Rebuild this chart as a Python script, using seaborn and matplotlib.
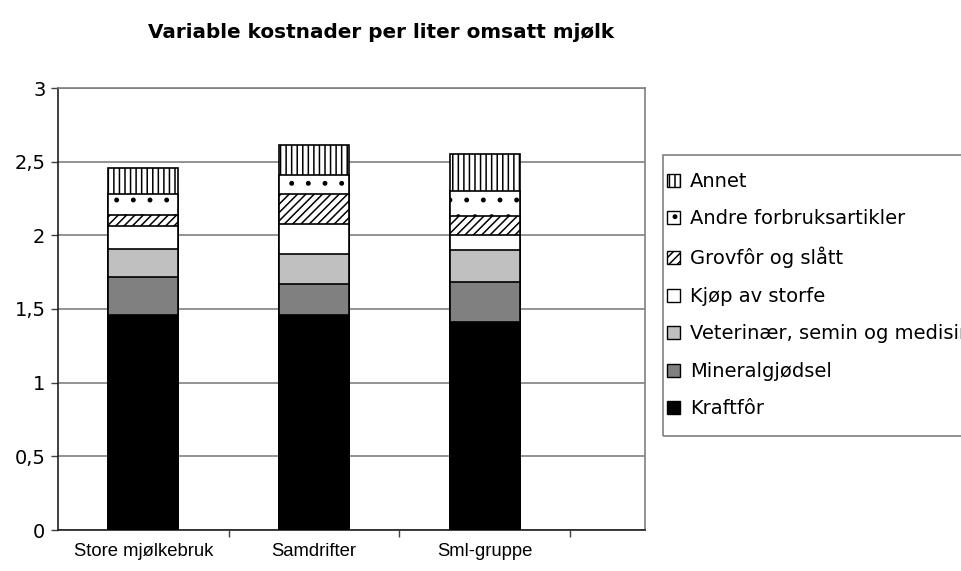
import pandas as pd
import seaborn as sns
import matplotlib.pyplot as plt
from matplotlib.patches import Patch, Rectangle

# Data (kr per liter)
groups = ["Store mjølkebruk", "Samdrifter", "Sml-gruppe"]
kraftfor = [1.46, 1.46, 1.41]
mineralgjodsel = [0.26, 0.21, 0.27]
veterinaer = [0.19, 0.20, 0.22]
kjop_storfe = [0.15, 0.21, 0.10]
grovfor = [0.08, 0.20, 0.13]
andre_forbruk = [0.14, 0.13, 0.17]
annet = [0.18, 0.20, 0.25]

y_ticks = [0, 0.5, 1, 1.5, 2, 2.5, 3]
y_tick_labels = ["0", "0,5", "1", "1,5", "2", "2,5", "3"]

components = ["Kraftfôr", "Mineralgjødsel", "Veterinær, semin og medisin",
              "Kjøp av storfe", "Grovfôr og slått", "Andre forbruksartikler", "Annet"]
colors = ["black", "#808080", "#c0c0c0", "white", "white", "white", "white"]
hatches = [None, None, None, None, "////", ".", "|||"]


def build_frame():
    df = pd.DataFrame({
        "Gruppe": groups,
        "Kraftfôr": kraftfor,
        "Mineralgjødsel": mineralgjodsel,
        "Veterinær, semin og medisin": veterinaer,
        "Kjøp av storfe": kjop_storfe,
        "Grovfôr og slått": grovfor,
        "Andre forbruksartikler": andre_forbruk,
        "Annet": annet,
    })
    cum = df[components].cumsum(axis=1)
    cum["Gruppe"] = df["Gruppe"]
    return cum


def plot_chart(cum):
    sns.set_theme(style="white")
    plt.rcParams["font.family"] = ["Liberation Sans", "DejaVu Sans"]
    plt.rcParams["hatch.linewidth"] = 1.1
    plt.rcParams["text.color"] = "black"
    plt.rcParams["xtick.color"] = "black"
    plt.rcParams["ytick.color"] = "black"

    W, H = 961, 571
    fig = plt.figure(figsize=(9.61, 5.71), dpi=100)
    ax = fig.add_axes([58 / W, 41 / H, 587 / W, 442 / H])

    # stacked bars: draw cumulative totals from the top layer down
    for comp, col, h in reversed(list(zip(components, colors, hatches))):
        sns.barplot(data=cum, x="Gruppe", y=comp, color=col, hatch=h,
                    edgecolor="black", linewidth=1.2, width=0.41,
                    saturation=1, ax=ax, zorder=3)

    ax.set_xlim(-0.5, 2.94)
    ax.set_ylim(0, 3)
    ax.set_xlabel("")
    ax.set_ylabel("")
    ax.set_yticks(y_ticks)
    ax.set_yticklabels(y_tick_labels, family="DejaVu Sans", fontsize=14)
    ax.yaxis.grid(True, color="#808080", linewidth=1.2, zorder=0)
    ax.set_axisbelow(True)

    ax.set_xticks([0.5, 1.5, 2.5], minor=True)
    ax.tick_params(axis="x", which="major", length=0, pad=9, labelsize=13.3)
    ax.tick_params(axis="x", which="minor", bottom=True, length=5,
                   width=1, color="#404040")
    ax.tick_params(axis="y", left=True, length=5, width=1, color="#404040",
                   pad=4)

    for side in ["left", "bottom"]:
        ax.spines[side].set_color("#202020")
        ax.spines[side].set_linewidth(1.2)
    for side in ["top", "right"]:
        ax.spines[side].set_color("#808080")
        ax.spines[side].set_linewidth(1.2)

    fig.text(381 / W, 1 - 33 / H, "Variable kostnader per liter omsatt mjølk",
             ha="center", va="center", fontsize=14.4, fontweight="bold",
             family="DejaVu Sans")

    # legend box (runs past the right edge as in the reference)
    fig.patches.append(Rectangle((663 / W, 1 - 436 / H), 320 / W, 281 / H,
                                 transform=fig.transFigure, fill=False,
                                 edgecolor="#808080", linewidth=1.2))

    handles = [Patch(facecolor=c, edgecolor="black", hatch=h, label=comp)
               for comp, c, h in zip(components, colors, hatches)][::-1]
    fig.legend(handles=handles, loc="upper left",
               bbox_to_anchor=(667 / W, 1 - 172 / H),
               frameon=False, prop={"family": "DejaVu Sans", "size": 14},
               handlelength=0.65, handleheight=0.65, handletextpad=0.55,
               labelspacing=0.95, borderpad=0, borderaxespad=0)

    fig.savefig("out.png", dpi=100)


def main():
    cum = build_frame()
    plot_chart(cum)


if __name__ == "__main__":
    main()
